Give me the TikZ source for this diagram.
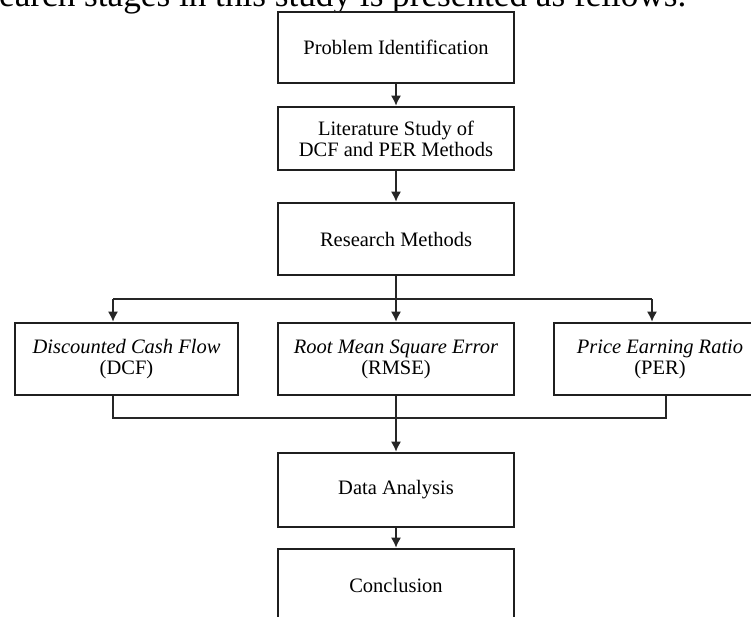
\documentclass[tikz,border=0pt]{standalone}
\usepackage{fontspec}
\setmainfont{Liberation Serif}
\usetikzlibrary{arrows.meta}
\begin{document}
\begin{tikzpicture}[x=1pt,y=-1pt,
  stepbox/.style={draw=black!88, line width=2.8pt, fill=white, align=center, inner sep=0pt,
     font=\fontsize{20.5}{21}\selectfont},
  conn/.style={draw=black!85, line width=1.1pt},
  arr/.style={conn, -{Latex[length=10pt,width=10pt]}}]
\useasboundingbox (0,0) rectangle (751,617);
\clip (0,0) rectangle (751,617);
\node[anchor=base west, inner sep=0pt, font=\fontsize{35.2}{36}\selectfont] (intro) at (-1,7) {earch stages in this study is presented as fellows.};
\node[stepbox, minimum width=236pt, minimum height=71pt] (b1) at (396,47.5) {Problem Identification};
\node[stepbox, minimum width=236pt, minimum height=63pt] (b2) at (396,138.5) {Literature Study of\\DCF and PER Methods};
\node[stepbox, minimum width=236pt, minimum height=72pt] (b3) at (396,239) {Research Methods};
\node[stepbox, minimum width=223pt, minimum height=72pt] (dcf) at (126.5,359) {\textit{Discounted Cash Flow}\\(DCF)};
\node[stepbox, minimum width=236pt, minimum height=72pt] (rmse) at (396,359) {\textit{Root Mean Square Error}\\(RMSE)};
\node[stepbox, minimum width=212pt, minimum height=72pt] (per) at (660,359) {\textit{Price Earning Ratio}\\(PER)};
\node[stepbox, minimum width=236pt, minimum height=74pt] (data) at (396,490) {Data Analysis};
\node[stepbox, minimum width=236pt, minimum height=72pt] (concl) at (396,585) {Conclusion};
\coordinate (la) at (113,299);
\coordinate (ra) at (652,299);
\coordinate (lb) at (113,418);
\coordinate (rb) at (666,418);
\draw[arr] (b1) -- (b2);
\draw[arr] (b2) -- (b3);
\draw[arr] (b3) -- (rmse);
\draw[conn] (la) -- (ra);
\draw[arr] (la) -- (la |- dcf.north);
\draw[arr] (ra) -- (ra |- per.north);
\draw[conn] (dcf.south -| lb) -- (lb) -- (rb) -- (per.south -| rb);
\draw[arr] (rmse) -- (data);
\draw[arr] (data) -- (concl);
\end{tikzpicture}
\end{document}
